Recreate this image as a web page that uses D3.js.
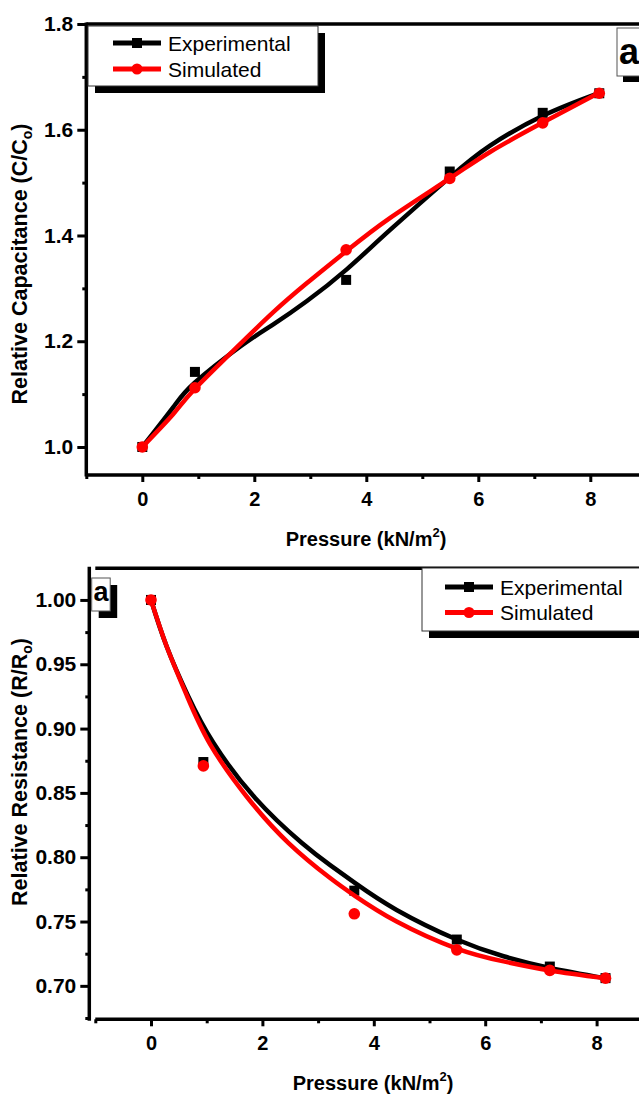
<!DOCTYPE html>
<html><head><meta charset="utf-8">
<script src="https://cdn.jsdelivr.net/npm/d3@7"></script>
<style>
html,body{margin:0;padding:0;background:#fff;}
svg{display:block;font-family:"Liberation Sans",Arial,sans-serif;}
</style></head>
<body>
<svg id="chart" width="639" height="1095"></svg>
<script>
// ---------- DATA ----------
const seriesNames = ["Experimental", "Simulated"];
const xTicks = [0, 2, 4, 6, 8];

// Panel 1: relative capacitance
const capX = [0, 0.94, 3.64, 5.49, 7.15, 8.16];
const capExp = [1.0, 1.142, 1.316, 1.521, 1.632, 1.669];
const capSim = [1.0, 1.112, 1.373, 1.508, 1.613, 1.669];
const capFitX = [0, 0.55, 0.94, 1.75, 2.34, 2.94, 3.65, 4.42, 5.49, 6.21, 7.16, 8.14];
const capExpFit = [1.0, 1.075, 1.122, 1.19, 1.232, 1.276, 1.336, 1.41, 1.51, 1.57, 1.627, 1.669];
const capSimFit = [1.0, 1.062, 1.11, 1.195, 1.255, 1.31, 1.371, 1.433, 1.508, 1.558, 1.614, 1.669];
const capTicks = [1.0, 1.2, 1.4, 1.6, 1.8];
const capMinor = [1.1, 1.3, 1.5, 1.7];

// Panel 2: relative resistance
const resX = [0, 0.94, 3.65, 5.49, 7.16, 8.16];
const resExp = [1.0, 0.874, 0.774, 0.736, 0.715, 0.706];
const resSim = [1.0, 0.871, 0.756, 0.728, 0.712, 0.706];
const resExpFitX = [0, 0.28, 0.67, 1.12, 1.87, 2.71, 3.21, 3.66, 4.41, 5.49, 6.33, 7.16, 8.15];
const resExpFit = [1.0, 0.964, 0.925, 0.889, 0.846, 0.811, 0.794, 0.780, 0.759, 0.736, 0.723, 0.714, 0.706];
const resSimFitX = [0, 0.28, 0.64, 1.06, 1.72, 2.47, 3.21, 3.66, 4.41, 5.49, 6.33, 7.16, 8.15];
const resSimFit = [1.0, 0.964, 0.926, 0.888, 0.847, 0.811, 0.784, 0.770, 0.750, 0.729, 0.719, 0.712, 0.706];
const resTicks = [0.70, 0.75, 0.80, 0.85, 0.90, 0.95, 1.00];
const resMinor = [0.675, 0.725, 0.775, 0.825, 0.875, 0.925, 0.975];

// ---------- DRAW ----------
const svg = d3.select("#chart");
const RED = "#ff0000";
const FONT = "Liberation Sans, Arial, sans-serif";
const zip = (xs, ys) => xs.map((x, i) => [x, ys[i]]);

function panel(cfg) {
  const g = svg.append("g");
  const x = d3.scaleLinear().domain([-1, 9]).range(cfg.xRange);
  const y = d3.scaleLinear().domain(cfg.yDomain).range(cfg.yRange);
  const yAxisX = x(-1) + cfg.yAxisShift;
  const bottom = y.range()[0], top = y.range()[1];

  // curves and points
  const line = d3.line().x(d => x(d[0])).y(d => y(d[1])).curve(d3.curveNatural);
  g.append("path").attr("d", line(zip(cfg.fitX1, cfg.fit1)))
    .attr("fill", "none").attr("stroke", "#000").attr("stroke-width", 4.5);
  g.selectAll(".sq").data(zip(cfg.px, cfg.exp)).enter().append("rect")
    .attr("x", d => x(d[0]) - 5).attr("y", d => y(d[1]) - 5)
    .attr("width", 10).attr("height", 10).attr("fill", "#000");
  g.append("path").attr("d", line(zip(cfg.fitX2, cfg.fit2)))
    .attr("fill", "none").attr("stroke", RED).attr("stroke-width", 4.5);
  g.selectAll(".ci").data(zip(cfg.px, cfg.sim)).enter().append("circle")
    .attr("cx", d => x(d[0])).attr("cy", d => y(d[1])).attr("r", 5.8).attr("fill", RED);

  // axes frame
  g.append("line").attr("x1", x(-1)).attr("x2", x(9)).attr("y1", bottom).attr("y2", bottom)
    .attr("stroke", "#000").attr("stroke-width", 3.5);
  g.append("line").attr("x1", yAxisX).attr("x2", yAxisX).attr("y1", top - 1.5).attr("y2", bottom + 1.5)
    .attr("stroke", "#000").attr("stroke-width", 3.5);
  g.append("line").attr("x1", x(-1)).attr("x2", x(9)).attr("y1", top).attr("y2", top)
    .attr("stroke", "#000").attr("stroke-width", 3.5);

  // x ticks
  const xa = d3.axisBottom(x).tickValues(xTicks).tickSize(7).tickPadding(10).tickFormat(d3.format("d"));
  const xg = g.append("g").attr("transform", `translate(0,${bottom})`).call(xa);
  xg.select(".domain").remove();
  xg.selectAll("line").attr("stroke-width", 3);
  xg.selectAll("text").attr("font-size", 20).attr("font-weight", "bold").attr("fill", "#000")
    .attr("font-family", FONT);
  const xm = d3.axisBottom(x).tickValues([-1, 1, 3, 5, 7, 9]).tickSize(4).tickFormat("");
  const xmg = g.append("g").attr("transform", `translate(0,${bottom})`).call(xm);
  xmg.select(".domain").remove();
  xmg.selectAll("line").attr("stroke-width", 3);

  // y ticks
  const ya = d3.axisLeft(y).tickValues(cfg.yTicks).tickSize(9).tickPadding(4).tickFormat(d3.format(cfg.yFmt));
  const yg = g.append("g").attr("transform", `translate(${yAxisX},0)`).call(ya);
  yg.select(".domain").remove();
  yg.selectAll("line").attr("stroke-width", 3);
  yg.selectAll("text").attr("font-size", 21).attr("font-weight", "bold").attr("fill", "#000")
    .attr("font-family", FONT);
  const ym = d3.axisLeft(y).tickValues(cfg.yMinor).tickSize(4).tickFormat("");
  const ymg = g.append("g").attr("transform", `translate(${yAxisX},0)`).call(ym);
  ymg.select(".domain").remove();
  ymg.selectAll("line").attr("stroke-width", 3);

  // axis titles
  const xt = g.append("text").attr("x", cfg.xTitle[0]).attr("y", cfg.xTitle[1])
    .attr("text-anchor", "middle").attr("font-size", 20).attr("font-weight", "bold");
  xt.append("tspan").text("Pressure (kN/m");
  xt.append("tspan").attr("font-size", 13).attr("dy", -9).text("2");
  xt.append("tspan").attr("dy", 9).text(")");

  const yt = g.append("text").attr("transform", `translate(${cfg.yTitle[0]},${cfg.yTitle[1]}) rotate(-90)`)
    .attr("text-anchor", "middle").attr("font-size", 21.5).attr("font-weight", "bold");
  yt.append("tspan").text(cfg.yLabel[0]);
  yt.append("tspan").attr("font-size", 14).attr("dy", 5).text(cfg.yLabel[1]);
  yt.append("tspan").attr("dy", -5).text(")");

  // legend
  const L = cfg.legend;
  g.append("rect").attr("x", L.x + 7).attr("y", L.y + 7).attr("width", L.w).attr("height", L.h).attr("fill", "#000");
  g.append("rect").attr("x", L.x).attr("y", L.y).attr("width", L.w).attr("height", L.h)
    .attr("fill", "#fff").attr("stroke", "#333").attr("stroke-width", 1);
  seriesNames.forEach((name, i) => {
    const ly = L.rows[i];
    const col = i === 0 ? "#000" : RED;
    g.append("line").attr("x1", L.lx).attr("x2", L.lx + 48).attr("y1", ly).attr("y2", ly)
      .attr("stroke", col).attr("stroke-width", 5);
    if (i === 0) g.append("rect").attr("x", L.lx + 24 - 5).attr("y", ly - 5).attr("width", 10).attr("height", 10).attr("fill", col);
    else g.append("circle").attr("cx", L.lx + 24).attr("cy", ly).attr("r", 5.5).attr("fill", col);
    g.append("text").attr("x", L.lx + 55).attr("y", ly + 7.5).attr("font-size", 21).attr("fill", "#000").text(name);
  });

  // panel tag "a"
  const T = cfg.tag;
  g.append("rect").attr("x", T.x + T.off).attr("y", T.y + T.off).attr("width", T.w).attr("height", T.h).attr("fill", "#000");
  g.append("rect").attr("x", T.x).attr("y", T.y).attr("width", T.w).attr("height", T.h)
    .attr("fill", "#fff").attr("stroke", "#555").attr("stroke-width", 1);
  g.append("text").attr("x", T.tx).attr("y", T.ty).attr("font-size", T.fs).attr("font-weight", "bold").text("a");
}

panel({
  xRange: [86.3, 646.3], yDomain: [0.947, 1.8], yRange: [475, 24], yAxisShift: 0,
  px: capX, exp: capExp, sim: capSim,
  fitX1: capFitX, fit1: capExpFit, fitX2: capFitX, fit2: capSimFit,
  yTicks: capTicks, yMinor: capMinor, yFmt: ".1f",
  xTitle: [366, 546], yTitle: [27, 264], yLabel: ["Relative Capacitance (C/C", "o"],
  legend: { x: 88, y: 26, w: 230, h: 60, lx: 113, rows: [43, 69] },
  tag: { x: 617, y: 28, w: 30, h: 48, off: 6, tx: 619, ty: 64, fs: 36 }
});

panel({
  xRange: [95.3, 652.3], yDomain: [0.674, 1.0246], yRange: [1019.3, 568.3], yAxisShift: -6,
  px: resX, exp: resExp, sim: resSim,
  fitX1: resExpFitX, fit1: resExpFit, fitX2: resSimFitX, fit2: resSimFit,
  yTicks: resTicks, yMinor: resMinor, yFmt: ".2f",
  xTitle: [373, 1090], yTitle: [27, 772], yLabel: ["Relative Resistance (R/R", "o"],
  legend: { x: 422, y: 568, w: 230, h: 63, lx: 445, rows: [587, 612.5] },
  tag: { x: 91.7, y: 578, w: 18.5, h: 33, off: 7, tx: 93.5, ty: 601, fs: 27 }
});
</script>
</body></html>
